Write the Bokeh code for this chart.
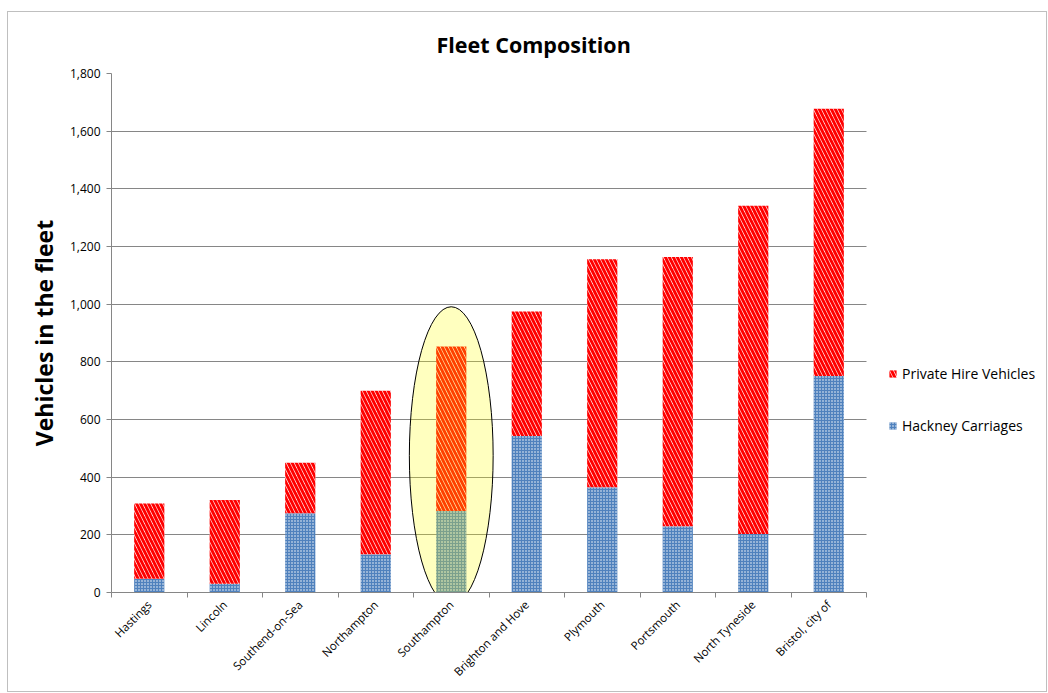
from bokeh.plotting import figure
from bokeh.models import (Range1d, FixedTicker, CustomJSTickFormatter, NumeralTickFormatter,
                          Legend, LegendItem, ColumnDataSource)
from bokeh.embed import file_html
from bokeh.resources import INLINE
import math

cities = ["Hastings", "Lincoln", "Southend-on-Sea", "Northampton", "Southampton",
          "Brighton and Hove", "Plymouth", "Portsmouth", "North Tyneside", "Bristol, city of"]
hackney = [48, 30, 275, 133, 283, 543, 365, 230, 203, 751]
private_hire = [261, 291, 175, 567, 570, 432, 791, 934, 1138, 927]
highlight = "Southampton"

W, H = 1040, 681
LEFT, RIGHT, TOP, BOTTOM = 103, 0, 61, 101
n = len(cities)
frame_w = W - LEFT - RIGHT
cat_px = 75.5
x_end = -0.5 + frame_w / cat_px

p = figure(width=W, height=H, output_backend="svg", toolbar_location=None,
           x_range=Range1d(-0.5, x_end), y_range=Range1d(0, 1800),
           min_border_left=LEFT, min_border_top=TOP, min_border_right=RIGHT, min_border_bottom=BOTTOM)
p.styles = {"border": "1px solid #BFBFBF", "margin-left": "7px", "margin-top": "11px"}
p.outline_line_color = None
p.background_fill_color = "white"
p.border_fill_color = "white"

p.title.text = "Fleet Composition"
p.title.align = "left"
p.title.offset = 325
p.title.text_font = "Open Sans"
p.title.text_font_size = "21.5px"
p.title.text_font_style = "bold"
p.title.text_color = "black"
p.title.standoff = 30

xs = list(range(n))
tops = [h + ph for h, ph in zip(hackney, private_hire)]
src = ColumnDataSource(dict(x=xs, hackney=hackney, top=tops))

r_h = p.vbar(x="x", bottom=0, top="hackney", width=0.4, source=src,
             fill_color="#4F81BD", line_color=None,
             hatch_pattern="dot", hatch_color="white", hatch_scale=3, hatch_weight=1.6)
r_p = p.vbar(x="x", bottom="hackney", top="top", width=0.4, source=src,
             fill_color="white", line_color=None,
             hatch_pattern="left_diagonal_line", hatch_color="#FF0000", hatch_scale=8, hatch_weight=3)

i = cities.index(highlight)
lo, hi = -42, tops[i] + 138
p.ellipse(x=[i], y=[(lo + hi) / 2], width=1.11, height=hi - lo,
          fill_color="#FFFF00", fill_alpha=0.25, line_color="black", line_width=1)

# axes
xa = p.xaxis[0]
xa.bounds = (-0.5, n - 0.5)
xa.ticker = FixedTicker(ticks=xs, minor_ticks=[x - 0.5 for x in xs] + [n - 0.5])
xa.formatter = CustomJSTickFormatter(args=dict(labels=cities),
                                     code="const i = Math.round(tick); return (i >= 0 && i < labels.length) ? labels[i] : '';")
xa.major_tick_line_color = None
xa.minor_tick_line_color = "#868686"
xa.minor_tick_out = 5
xa.minor_tick_in = 0
xa.axis_line_color = "#868686"
xa.major_label_orientation = math.pi / 4
xa.major_label_text_font = "Open Sans"
xa.major_label_text_font_size = "11.5px"
xa.major_label_text_color = "black"
xa.major_label_standoff = 4

ya = p.yaxis[0]
ya.ticker = FixedTicker(ticks=list(range(0, 1801, 200)))
ya.formatter = NumeralTickFormatter(format="0,0")
ya.axis_line_color = "#868686"
ya.major_tick_line_color = "#868686"
ya.major_tick_out = 5
ya.major_tick_in = 0
ya.minor_tick_line_color = None
ya.major_label_text_font = "Open Sans"
ya.major_label_text_font_size = "12px"
ya.major_label_text_color = "black"
ya.major_label_standoff = 6
ya.axis_label = "Vehicles in the fleet"
ya.axis_label_text_font = "Open Sans"
ya.axis_label_text_font_size = "23px"
ya.axis_label_text_font_style = "bold"
ya.axis_label_text_color = "black"
ya.axis_label_standoff = 7

p.xgrid.grid_line_color = None
p.ygrid.grid_line_color = "#868686"
p.ygrid.grid_line_width = 1
p.ygrid.cross_bounds = (-0.5, n - 0.5)

legend = Legend(items=[LegendItem(label="Private Hire Vehicles", renderers=[r_p]),
                       LegendItem(label="Hackney Carriages", renderers=[r_h])],
                location=(777, 157), border_line_color=None, background_fill_alpha=0,
                glyph_width=9, glyph_height=9, label_text_font="Open Sans",
                label_text_font_size="14px", label_text_color="black",
                spacing=32, padding=0, label_standoff=5, label_height=20)
p.add_layout(legend, "center")

open("out.html", "w").write(file_html(p, INLINE))
